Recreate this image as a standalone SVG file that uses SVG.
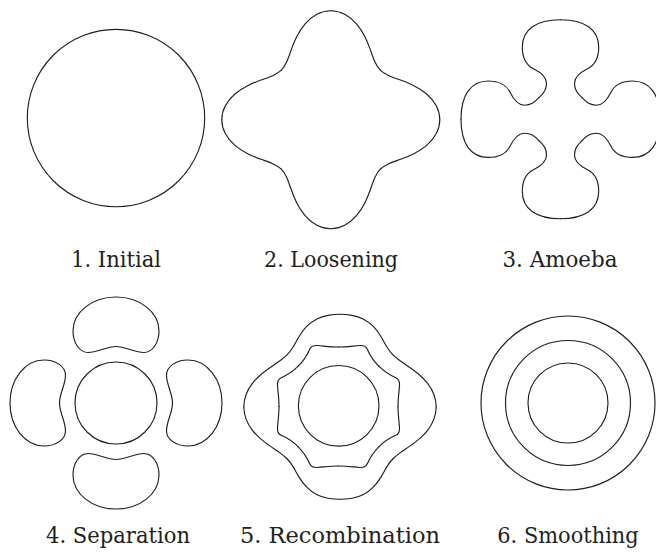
<svg xmlns="http://www.w3.org/2000/svg" width="656" height="552" viewBox="0 0 656 552">
<style>
.c{fill:none;stroke:#1f1f1f;stroke-width:1.15;stroke-linecap:round;stroke-linejoin:round}
</style>
<defs>
<path id="e2" d="M109,0 C109,4.756 107.769,9.507 105.476,13.887 C103.183,18.267 99.836,22.268 95.868,25.688 C91.900,29.108 87.326,31.944 82.687,34.250 C78.048,36.556 73.358,38.335 69.066,39.875 C64.774,41.415 60.887,42.726 57.608,44.204 C54.329,45.682 51.657,47.337 49.497,49.497"/>
<path id="e3" d="M0,-99.5 C24,-99.5 38.2,-90 38.2,-72 C38.2,-60 34,-54 27,-50.5 C20,-47 14,-43 14,-36 C14,-29.5 16.5,-26.5 21.5,-21.5"/>
<path id="bean" d="M0,-106 C23.7,-106 43,-91 43,-72 C43,-60 36.3,-50.5 28,-50.5 C18,-50.5 10,-56.5 0,-56.5 C-10,-56.5 -18,-50.5 -28,-50.5 C-36.3,-50.5 -43,-60 -43,-72 C-43,-91 -23.7,-106 0,-106 Z"/>
<path id="e5h" d="M96.2,0 C96.2,4.197 95.406,8.393 93.915,12.365 C92.424,16.337 90.240,20.083 87.610,23.475 C84.980,26.867 81.911,29.904 78.715,32.604 C75.519,35.304 72.202,37.670 69.023,39.85 C65.844,42.030 62.808,44.032 60.036,46.067 C57.264,48.102 54.756,50.178 52.467,52.467"/>
<path id="e5v" d="M92.5,0 C92.5,4.036 92.169,8.078 91.402,12.034 C90.635,15.990 89.413,19.862 87.589,23.469 C85.765,27.076 83.324,30.404 80.396,33.301 C77.468,36.198 74.063,38.652 70.606,40.764 C67.149,42.876 63.668,44.656 60.567,46.475 C57.466,48.294 54.756,50.178 52.467,52.467"/>
<path id="e5i" d="M59.5,0 C59.5,8 60.6,15 61,21 C61.23,24.49 60.52,27.44 57.3,28.8 C50.86,31.53 45.25,35.35 40.3,40.3"/>
</defs>

<g id="panel1" class="c">
<circle cx="116" cy="118" r="88.7"/>
</g>

<g id="panel2" class="c" transform="translate(330.8,119.7)">
<use href="#e2"/>
<use href="#e2" transform="matrix(0,1,1,0,0,0)"/>
<use href="#e2" transform="matrix(0,1,-1,0,0,0)"/>
<use href="#e2" transform="scale(-1,1)"/>
<use href="#e2" transform="scale(-1,-1)"/>
<use href="#e2" transform="matrix(0,-1,-1,0,0,0)"/>
<use href="#e2" transform="matrix(0,-1,1,0,0,0)"/>
<use href="#e2" transform="scale(1,-1)"/>
</g>

<g id="panel3" class="c" transform="translate(560.5,119.2)">
<use href="#e3"/>
<use href="#e3" transform="matrix(0,1,1,0,0,0)"/>
<use href="#e3" transform="matrix(0,1,-1,0,0,0)"/>
<use href="#e3" transform="scale(-1,1)"/>
<use href="#e3" transform="scale(-1,-1)"/>
<use href="#e3" transform="matrix(0,-1,-1,0,0,0)"/>
<use href="#e3" transform="matrix(0,-1,1,0,0,0)"/>
<use href="#e3" transform="scale(1,-1)"/>
</g>

<g id="panel4" class="c" transform="translate(116,403)">
<circle cx="0" cy="0" r="41"/>
<use href="#bean"/>
<use href="#bean" transform="rotate(90)"/>
<use href="#bean" transform="rotate(180)"/>
<use href="#bean" transform="rotate(270)"/>
</g>

<g id="panel5" class="c">
<circle cx="338.7" cy="405.8" r="40.3"/>
<g transform="translate(340,406.8)">
<use href="#e5h"/>
<use href="#e5h" transform="scale(-1,1)"/>
<use href="#e5h" transform="scale(1,-1)"/>
<use href="#e5h" transform="scale(-1,-1)"/>
<use href="#e5v" transform="matrix(0,1,1,0,0,0)"/>
<use href="#e5v" transform="matrix(0,1,-1,0,0,0)"/>
<use href="#e5v" transform="matrix(0,-1,1,0,0,0)"/>
<use href="#e5v" transform="matrix(0,-1,-1,0,0,0)"/>
</g>
<g transform="translate(338.5,406.5)">
<use href="#e5i"/>
<use href="#e5i" transform="matrix(0,1,1,0,0,0)"/>
<use href="#e5i" transform="matrix(0,1,-1,0,0,0)"/>
<use href="#e5i" transform="scale(-1,1)"/>
<use href="#e5i" transform="scale(-1,-1)"/>
<use href="#e5i" transform="matrix(0,-1,-1,0,0,0)"/>
<use href="#e5i" transform="matrix(0,-1,1,0,0,0)"/>
<use href="#e5i" transform="scale(1,-1)"/>
</g>
</g>

<g id="panel6" class="c">
<circle cx="568" cy="403" r="87"/>
<circle cx="568" cy="403" r="62.5"/>
<circle cx="568" cy="403" r="40"/>
</g>

<g id="labels" style="font-family:'DejaVu Serif','Liberation Serif',serif;font-size:22px;fill:#222" text-anchor="middle">
<text x="116" y="266.5" textLength="90" lengthAdjust="spacingAndGlyphs">1. Initial</text>
<text x="331" y="266.5" textLength="134" lengthAdjust="spacingAndGlyphs">2. Loosening</text>
<text x="560" y="266.5" textLength="115" lengthAdjust="spacingAndGlyphs">3. Amoeba</text>
<text x="118" y="543" textLength="144" lengthAdjust="spacingAndGlyphs">4. Separation</text>
<text x="340" y="543" textLength="200" lengthAdjust="spacingAndGlyphs">5. Recombination</text>
<text x="568" y="543" textLength="141.5" lengthAdjust="spacingAndGlyphs">6. Smoothing</text>
</g>
</svg>
